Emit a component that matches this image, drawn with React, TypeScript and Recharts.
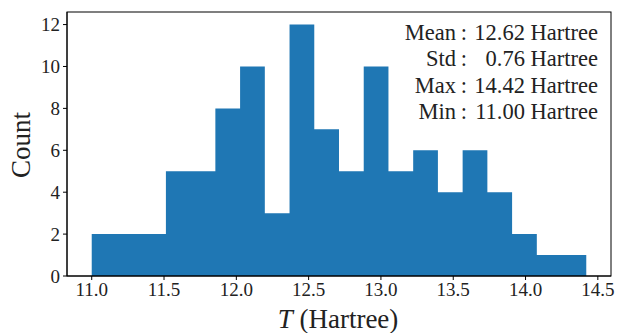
import React from "react";
import { ComposedChart, Area, XAxis, YAxis } from "recharts";

// histogram of T, 20 bins between min and max
const binEdges = [
  11.0, 11.171, 11.342, 11.513, 11.684, 11.855, 12.026, 12.197, 12.368, 12.539,
  12.71, 12.881, 13.052, 13.223, 13.394, 13.565, 13.736, 13.907, 14.078, 14.249, 14.42,
];
const binCounts = [2, 2, 2, 5, 5, 8, 10, 3, 12, 7, 5, 10, 5, 6, 4, 6, 4, 2, 1, 1];

const xTicks = [11.0, 11.5, 12.0, 12.5, 13.0, 13.5, 14.0, 14.5];
const yTicks = [0, 2, 4, 6, 8, 10, 12];

const statLabels = ["Mean", "Std", "Max", "Min"];
const statValues = ["12.62 Hartree", "0.76 Hartree", "14.42 Hartree", "11.00 Hartree"];

// step area needs the last edge to carry the last count
const data = binEdges.map((edge, i) => ({
  edge,
  count: binCounts[Math.min(i, binCounts.length - 1)],
}));

const FONT = "'Liberation Serif', 'DejaVu Serif', serif";
const W = 617;
const H = 333;
const plot = { left: 67, top: 12, right: 611, bottom: 276 };

export default function App() {
  return (
    <div style={{ position: "absolute", left: 0, top: 0, width: W, height: H, background: "#fff" }}>
      <ComposedChart
        width={W}
        height={H}
        data={data}
        margin={{ top: plot.top, right: W - plot.right, left: 0, bottom: 0 }}
      >
        <XAxis
          dataKey="edge"
          type="number"
          domain={[10.829, 14.591]}
          ticks={xTicks}
          tickFormatter={(v: number) => v.toFixed(1)}
          allowDataOverflow
          height={H - plot.bottom}
          stroke="#000"
          tickSize={4}
          tickMargin={3}
          tick={{ fill: "#222", fontSize: 19, fontFamily: FONT }}
        />
        <YAxis
          type="number"
          domain={[0, 12.6]}
          ticks={yTicks}
          allowDataOverflow
          width={plot.left}
          stroke="#000"
          tickSize={4}
          tickMargin={3}
          tick={{ fill: "#222", fontSize: 19, fontFamily: FONT }}
        />
        <Area
          type="stepAfter"
          dataKey="count"
          fill="#1f77b4"
          fillOpacity={1}
          stroke="none"
          isAnimationActive={false}
        />
      </ComposedChart>
      <svg
        width={W}
        height={H}
        style={{ position: "absolute", left: 0, top: 0, pointerEvents: "none" }}
      >
        <rect
          x={plot.left}
          y={plot.top}
          width={plot.right - plot.left}
          height={plot.bottom - plot.top}
          fill="none"
          stroke="#000"
          strokeWidth={1}
        />
        <g fontFamily={FONT} fill="#222" fontSize={22.5}>
          {statLabels.map((lab, i) => (
            <g key={lab}>
              <text x={456} y={40 + i * 26.3} textAnchor="end">{lab}</text>
              <text x={464} y={40 + i * 26.3} textAnchor="middle">:</text>
              <text x={598} y={40 + i * 26.3} textAnchor="end">{statValues[i]}</text>
            </g>
          ))}
        </g>
        <text
          x={30}
          y={145}
          transform="rotate(-90 30 145)"
          textAnchor="middle"
          fontFamily={FONT}
          fontSize={27}
          fill="#222"
        >
          Count
        </text>
        <text x={338} y={328} textAnchor="middle" fontFamily={FONT} fontSize={27} fill="#222">
          <tspan fontStyle="italic">T</tspan> (Hartree)
        </text>
      </svg>
    </div>
  );
}
